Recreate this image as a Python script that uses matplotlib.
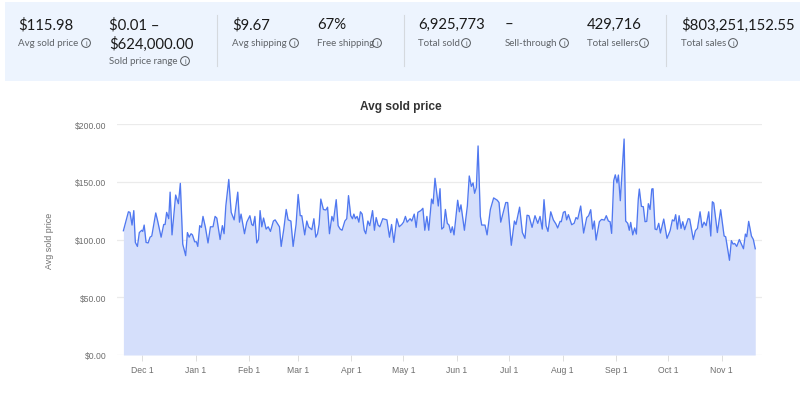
import matplotlib
matplotlib.use("Agg")
import matplotlib.pyplot as plt
from matplotlib.patches import Rectangle, Circle

days = [0.2,3.1,4.0,5.2,6.2,7.1,8.3,9.4,10.8,11.4,12.2,13.3,14.5,15.6,16.6,18.9,20.0,22,23.5,24.3,25.2,26.4,27.2,28.3,30.4,32,33.1,34.5,36.2,37.2,38.2,39.3,40.1,41.4,42.4,43.2,44.3,45.3,46.2,47.6,49.1,50.5,52,53.2,54.2,56.1,57.4,58.4,59.4,
61.1,62.5,64.2,66.3,67.3,68.2,70.2,71.5,73.3,74.4,75.2,76.2,77.3,78.3,79.2,80.2,81.2,82.7,83.9,85.2,86.9,87.9,90.4,91.4,92.9,94.3,95.4,97,98.3,100,101.2,102.4,103.3,105,106.2,107.2,109.1,110.3,111.4,112.4,113.3,114.3,115.8,117.2,118.2,119.3,
120.7,121.6,123.2,124.3,125.5,126.6,128.2,129.3,130.3,131.6,132.6,133.4,134.3,135.3,136.3,137.2,138.2,139.4,140.3,141.5,142.6,144.2,145.3,146.3,147.4,148.4,150.1,152.5,153.4,154,155.2,156.5,158.2,159.6,161.1,162.1,163.2,164.2,165.9,166.9,168.3,169.4,170.4,172.1,173.3,174.4,175.6,176.7,178.3,179.2,
180.3,182.2,183.2,184.2,185.3,186.3,187.4,188.4,189.4,190.3,191.3,193.4,194.4,195.3,197.3,199,200.1,201.3,202.3,203.2,204.2,205.2,206.5,207.3,209.2,210.4,212.3,214.2,216.3,217.3,218.3,221.2,222.3,224.4,226.2,227.1,229.2,230.8,232.3,233.5,234.6,236.4,238.1,239.7,
241,242.3,243.3,244.5,245.6,247.2,248.7,250.2,251.2,252.6,253.3,254.5,255.5,256.4,257.4,259.3,260.7,261.8,262.8,264.5,266.2,268,269.1,270.3,271.4,272.4,273.4,275.3,276.6,278.2,279.3,280.5,281.5,282.4,283.6,284.5,285.5,286.3,287.4,289.6,290.5,291.7,292.6,293.4,294.6,295.7,296.7,297.8,298.4,299.6,300.7,301.7,302.7,303.6,
304.6,305.6,306.3,307.5,308.5,309.6,310.6,312.5,314.4,316.2,317.5,318.5,319.4,320.4,321.4,322.5,323.5,324.6,326.6,327.5,329.6,330.8,332,333.5,334.7,335.8,337,338.5,339.7,340.6,341.4,343.5,345.4,347.4,348.3,350.5,351.6,352.6,353.5,354.7,356.2,358.6,359.7,360.5,361.6,363.2,364.3,365.4]
prices = [107.6,124,123.5,112.5,125,97.5,94,106,108,107,112.5,97.5,97,102,103,123,116,102,113,113,123.5,118,141,104,138.5,131,148.6,96,86,106,102,105,104,98,98,94,112,110.5,120,110.5,97,111,111,120,118.5,100,112,105,129,
152,123.5,117,141,115,122,105,115,120.6,113,112,120,97,100,125,111,118.6,109,111,107,116,117,111,94,109,126,117,116,94,113,139,120.6,120.6,104,116,111,108.5,118,102,105,113,135,126,125.5,128,105,
120,116,134.5,112,109,108,116,118,138,120.6,118,122,118,120,115,124,122,108,105,116,112,125,108,119,112.5,111,118,117,108,102,113,97.5,118,111,113,115,120,115,118,116,122,110.5,123.5,125,127,108,120,108,135,131,
153,129,144,109,110.5,126,114,112.5,106,111,104,134,124,130,108,129,155,146,149,140,145,181,120,112.5,112.5,104,126,136,134,132,115,132,132,95,116,113,128,106,101,121,120.6,110.5,120.6,114,
120,109,134.5,112,107,124,117,113.4,110,115.7,115.4,123.5,124.3,117,121.5,112.8,114,119,117.7,129,105.6,119,120.6,125.8,109,116,99.5,115.4,117.4,116.8,120.6,116,115.4,105.3,151,156,149,155.8,133.6,187,116,114,108,114.8,104,110,104.7,135,143.7,128.7,128.4,115.4,115.7,131,
126,143.7,144,109,108.5,114,105.6,117.7,101,107.6,117,116,121.5,109,120.6,109.6,115.4,108.5,118,117.7,100,107.6,109.6,124,110.5,115,112,124,103,132.7,131.6,106,125.8,103,102.4,82,99,96,96.6,94,100,92,104.7,102.4,115.7,103,100,92]
tick_days = [11,42,73,101,132,162,193,223,254,285,315,346]
tick_labels = ["Dec 1","Jan 1","Feb 1","Mar 1","Apr 1","May 1","Jun 1","Jul 1","Aug 1","Sep 1","Oct 1","Nov 1"]
y_ticks = [0,50,100,150,200]
y_labels = ["$0.00","$50.00","$100.00","$150.00","$200.00"]

kpi_values = ["$115.98","$0.01 –\n$624,000.00","$9.67","67%","6,925,773","–","429,716","$803,251,152.55"]
kpi_names = ["Avg sold price","Sold price range","Avg shipping","Free shipping","Total sold","Sell-through","Total sellers","Total sales"]
kpi_x = [18,109,232,317,418,505,587,681]
kpi_name_y = [43,61,43,43,43,43,43,43]
kpi_icon_x = [86,185,294,377,466,564,644,733]
dividers = [217,404,666]

W, H = 800, 406
plt.rcParams["font.family"] = ["Liberation Sans", "DejaVu Sans"]
fig = plt.figure(figsize=(8, 4.06), dpi=100, facecolor="white")

ov = fig.add_axes([0, 0, 1, 1], zorder=0)
ov.set_xlim(0, W); ov.set_ylim(H, 0); ov.axis("off")
ov.add_patch(Rectangle((5, 3), 795, 79, fc="#edf4fe", ec="none"))
for d in dividers:
    ov.plot([d, d], [16, 67], color="#d5d9de", lw=0.8)
for x, v, n, ny, ix in zip(kpi_x, kpi_values, kpi_names, kpi_name_y, kpi_icon_x):
    ov.text(x, 18, v, fontsize=10.7, family="Lato", color="#1a1a1a", va="top", ha="left", linespacing=1.38)
    ov.text(x, ny, n, fontsize=7.0, family="Lato", color="#5f6368", va="center", ha="left")
    ov.add_patch(Circle((ix, ny + 1), 4.4, fc="none", ec="#55595e", lw=0.7))
    ov.text(ix, ny + 1, "i", fontsize=5, color="#55595e", va="center", ha="center")

# Plot area spans px 117..762 horizontally, 125..356 vertically
ax = fig.add_axes([117 / W, 1 - 356 / H, 645 / W, 231 / H], zorder=1)
ax.patch.set_alpha(0)
ax.set_xlim(-3.5, 369.3)
ax.set_ylim(0, 200)
ax.fill_between(days, prices, 0, color="#d5dffb", lw=0)
ax.plot(days, prices, color="#5078f0", lw=0.95)
ax.set_yticks(y_ticks, y_labels)
ax.set_xticks(tick_days, tick_labels)
ax.grid(axis="y", color="#ebebeb", lw=0.9)
ax.set_axisbelow(True)
for s in ax.spines.values():
    s.set_visible(False)
ax.tick_params(axis="y", length=0, labelsize=6.2, labelcolor="#6e6e6e", pad=7.5)
ax.tick_params(axis="x", length=4, width=0.7, color="#dddddd", labelsize=6.2, labelcolor="#6e6e6e", pad=3.5)
ax.set_title("Avg sold price", fontsize=8.6, fontweight="bold", color="#333333", pad=11, x=(401 - 117) / 645)
ov.text(49, 241, "Avg sold price", rotation=90, fontsize=6.4, color="#6e6e6e", va="center", ha="center")

fig.savefig("out.png", dpi=100)
